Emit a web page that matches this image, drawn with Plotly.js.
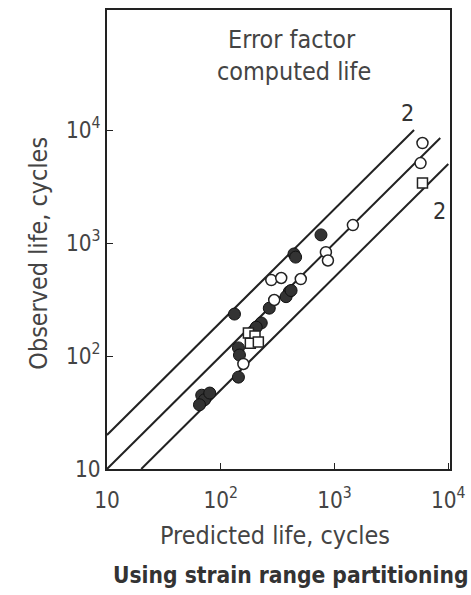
<!DOCTYPE html>
<html>
<head>
<meta charset="utf-8">
<script src="https://cdn.plot.ly/plotly-3.0.1.min.js"></script>
<style>
html,body{margin:0;padding:0;background:#fff;}
#chart{width:471px;height:595px;}
</style>
</head>
<body>
<div id="chart"></div>
<script>
// Solid (filled) circles: predicted life, observed life
var filledPred = [760, 440, 455, 400, 375, 415, 267, 132, 227, 205, 143, 146, 143, 68, 72, 65, 80];
var filledObs  = [1180, 800, 750, 370, 335, 380, 265, 235, 196, 180, 118, 102, 65, 45, 41, 37, 47];
// Open circles
var openPred = [5930, 5700, 1450, 840, 875, 278, 340, 505, 295, 158];
var openObs  = [7670, 5100, 1440, 830, 700, 470, 490, 480, 313, 85];
// Open squares
var squarePred = [5930, 175, 200, 182, 214];
var squareObs  = [3390, 160, 150, 130, 133];
// Error-factor lines (factor 2 above, 1:1, factor 2 below)
var upperX = [10, 5000],  upperY = [20, 10000];
var middleX = [10, 8500], middleY = [10, 8500];
var lowerX = [20, 10000], lowerY = [10, 5000];
// Tick labels
var tickVals = [10, 100, 1000, 10000];
var tickText = ['10', '10<sup>2</sup>', '10<sup>3</sup>', '10<sup>4</sup>'];

function hasFont(name) {
  var c = document.createElement('canvas').getContext('2d');
  var s = 'Predicted life, cycles 1024';
  c.font = '40px monospace';
  var w0 = c.measureText(s).width;
  c.font = "40px '" + name + "', monospace";
  return Math.abs(c.measureText(s).width - w0) > 0.5;
}
var fontFam, k;
if (hasFont('Liberation Sans Narrow')) { fontFam = "'Liberation Sans Narrow', sans-serif"; k = 1; }
else if (hasFont('DejaVu Sans Condensed')) { fontFam = "'DejaVu Sans Condensed', sans-serif"; k = 0.86; }
else { fontFam = "'Liberation Sans', Arial, sans-serif"; k = 0.82; }

var ink = '#222';
var txt = '#444';
var lineStyle = {color: ink, width: 2};

var traces = [
  {x: upperX, y: upperY, mode: 'lines', line: lineStyle, hoverinfo: 'skip'},
  {x: middleX, y: middleY, mode: 'lines', line: lineStyle, hoverinfo: 'skip'},
  {x: lowerX, y: lowerY, mode: 'lines', line: lineStyle, hoverinfo: 'skip'},
  {x: filledPred, y: filledObs, mode: 'markers', type: 'scatter',
   marker: {symbol: 'circle', size: 12, color: '#333', line: {color: '#111', width: 1}}},
  {x: openPred, y: openObs, mode: 'markers', type: 'scatter',
   marker: {symbol: 'circle', size: 11, color: '#fff', line: {color: ink, width: 1.5}}},
  {x: squarePred, y: squareObs, mode: 'markers', type: 'scatter',
   marker: {symbol: 'square', size: 10, color: '#fff', line: {color: ink, width: 1.5}}}
];

function px(v) { return Math.round(v * k * 10) / 10; }

var layout = {
  width: 471, height: 595,
  margin: {l: 107, r: 21, t: 10, b: 126},
  paper_bgcolor: '#fff', plot_bgcolor: '#fff',
  showlegend: false,
  font: {family: fontFam, color: txt, size: px(26)},
  xaxis: {
    type: 'log', range: [1, 4.015],
    tickvals: tickVals, ticktext: tickText,
    ticks: 'inside', ticklen: 6, tickcolor: ink, tickwidth: 1,
    showgrid: false, zeroline: false,
    showline: true, linecolor: ink, linewidth: 2, mirror: true,
    tickfont: {size: px(26), color: txt},
    ticklabelstandoff: 10
  },
  yaxis: {
    type: 'log', range: [1, 5.062],
    tickvals: tickVals, ticktext: tickText,
    ticks: 'inside', ticklen: 6, tickcolor: ink, tickwidth: 1,
    showgrid: false, zeroline: false,
    showline: true, linecolor: ink, linewidth: 2, mirror: true,
    tickfont: {size: px(26), color: txt}
  },
  annotations: [
    {xref: 'paper', yref: 'paper', x: 0.54, y: 0.935, text: 'Error factor', showarrow: false,
     font: {size: px(29), color: txt}, xanchor: 'center', yanchor: 'middle'},
    {xref: 'paper', yref: 'paper', x: 0.545, y: 0.865, text: 'computed life', showarrow: false,
     font: {size: px(29), color: txt}, xanchor: 'center', yanchor: 'middle'},
    {xref: 'paper', yref: 'paper', x: 0.875, y: 0.776, text: '2', showarrow: false,
     font: {size: px(27), color: '#333'}, xanchor: 'center', yanchor: 'middle'},
    {xref: 'paper', yref: 'paper', x: 0.968, y: 0.564, text: '2', showarrow: false,
     font: {size: px(27), color: '#333'}, xanchor: 'center', yanchor: 'middle'},
    {xref: 'paper', yref: 'paper', x: -0.2, y: 0.47, text: 'Observed life, cycles', showarrow: false,
     textangle: -90, font: {size: px(29), color: txt}, xanchor: 'center', yanchor: 'middle'},
    {xref: 'paper', yref: 'paper', x: 0.49, y: -0.145, text: 'Predicted life, cycles', showarrow: false,
     font: {size: px(29), color: txt}, xanchor: 'center', yanchor: 'middle'},
    {xref: 'paper', yref: 'paper', x: 0.535, y: -0.23, text: '<b>Using strain range partitioning</b>', showarrow: false,
     font: {size: px(26.3), color: '#333'}, xanchor: 'center', yanchor: 'middle'}
  ]
};

Plotly.newPlot('chart', traces, layout, {staticPlot: true, displayModeBar: false});
</script>
</body>
</html>
